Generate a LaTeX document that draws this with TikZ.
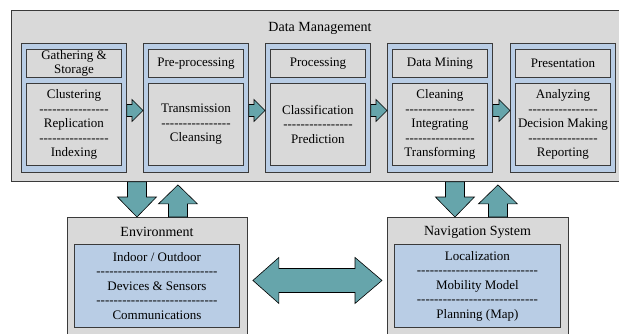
\documentclass[tikz,border=0pt]{standalone}
\usepackage{fontspec}
\setmainfont{Liberation Serif}[Ligatures=TeXOff]
\usetikzlibrary{calc}
\definecolor{boxgray}{HTML}{D9D9D9}
\definecolor{boxblue}{HTML}{B9CDE5}
\definecolor{arrowteal}{HTML}{66A5AB}
\definecolor{edgecol}{HTML}{3A3A3A}
\newcommand\sepn{----------------}
\newcommand\sepw{----------------------------}
\newcommand\mymodule[4]{%
  \node[bluebox, anchor=north west, minimum width=105pt, minimum height=129pt] (#1) at (#2,43) {};
  \node[graybox, txt, anchor=north west, minimum width=95pt, minimum height=28pt] (#1t) at (#2+5,49) {#3};
  \node[graybox, txt, anchor=north west, minimum width=95pt, minimum height=82pt] (#1c) at (#2+5,83) {#4};
}
\begin{document}
\begin{tikzpicture}[x=1pt,y=-1pt,
  graybox/.style={draw=edgecol, fill=boxgray, line width=0.9pt, inner sep=0pt},
  bluebox/.style={draw=edgecol, fill=boxblue, line width=0.9pt, inner sep=0pt},
  txt/.style={font=\fontsize{13}{14.5}\selectfont, align=center},
  bigtxt/.style={font=\fontsize{14}{16}\selectfont},
  blockarrow/.style={fill=arrowteal, draw=black, line width=0.6pt, line join=miter},
]
\useasboundingbox (0,0) rectangle (619,333);
\clip (0,0) rectangle (619,333);
\fill[white] (0,0) rectangle (619,333);

% Data management container
\node[graybox, anchor=north west, minimum width=620pt, minimum height=171pt] (dm) at (11,10) {};
\node[bigtxt] (dmt) at (320,28) {Data Management};

\mymodule{m1}{21}{Gathering \&\\Storage}{Clustering\\\sepn\\Replication\\\sepn\\Indexing}
\mymodule{m2}{143}{Pre-processing}{Transmission\\\sepn\\Cleansing}
\mymodule{m3}{265}{Processing}{Classification\\\sepn\\Prediction}
\mymodule{m4}{387}{Data Mining}{Cleaning\\\sepn\\Integrating\\\sepn\\Transforming}
\mymodule{m5}{510}{Presentation}{Analyzing\\\sepn\\Decision Making\\\sepn\\Reporting}

% small arrows between modules
\foreach \a/\b in {m1/m2, m2/m3, m3/m4, m4/m5}{
  \draw[blockarrow] let \p1=(\a.east), \p2=(\b.west) in
    (\x1,\y1+3.5pt) -- (\x2-11pt,\y1+3.5pt) -- (\x2-11pt,\y1+8.5pt) -- (\x2,\y1-2.5pt)
    -- (\x2-11pt,\y1-13.5pt) -- (\x2-11pt,\y1-8.5pt) -- (\x1,\y1-8.5pt) -- cycle;
}

% Environment
\node[graybox, anchor=north west, minimum width=180pt, minimum height=140pt] (env) at (67,217) {};
\node[bigtxt] (envt) at (157,232) {Environment};
\node[bluebox, txt, anchor=north west, minimum width=165pt, minimum height=83pt] (envc) at (74,244)
  {Indoor / Outdoor\\\sepw\\Devices \& Sensors\\\sepw\\Communications};

% Navigation system
\node[graybox, anchor=north west, minimum width=181pt, minimum height=140pt] (nav) at (387,217) {};
\node[bigtxt] (navt) at (477.5,232) {Navigation System};
\node[bluebox, txt, anchor=north west, minimum width=166pt, minimum height=83pt] (navc) at (394,244)
  {Localization\\\sepw\\Mobility Model\\\sepw\\Planning (Map)};

% vertical arrows
\foreach \b/\dd/\du in {env/20.5/20.5, nav/23/20}{
  \draw[blockarrow] let \p1=(dm.south), \p2=(\b.north) in
    (\x2-\dd pt-9.5pt,\y1) -- (\x2-\dd pt+9.5pt,\y1) -- (\x2-\dd pt+9.5pt,\y2+20pt)
    -- (\x2-\dd pt+19.5pt,\y2+20pt) -- (\x2-\dd pt,\y2) -- (\x2-\dd pt-19.5pt,\y2+20pt)
    -- (\x2-\dd pt-9.5pt,\y2+20pt) -- cycle;
  \draw[blockarrow] let \p1=(dm.south), \p2=(\b.north) in
    (\x2+\du pt-9.5pt,\y2) -- (\x2+\du pt-9.5pt,\y1-22pt) -- (\x2+\du pt-19.5pt,\y1-22pt)
    -- (\x2+\du pt,\y1-3pt) -- (\x2+\du pt+19.5pt,\y1-22pt) -- (\x2+\du pt+9.5pt,\y1-22pt)
    -- (\x2+\du pt+9.5pt,\y2) -- cycle;
}

% double arrow between environment and navigation
\draw[blockarrow] let \p1=(env.east), \p2=(nav.west) in
  (\x1+5pt,\y1+7pt) -- (\x1+31pt,\y1+30pt) -- (\x1+31pt,\y1+19pt) -- (\x2-32pt,\y1+19pt)
  -- (\x2-32pt,\y1+30pt) -- (\x2-5pt,\y1+7pt) -- (\x2-32pt,\y1-16pt) -- (\x2-32pt,\y1-5pt)
  -- (\x1+31pt,\y1-5pt) -- (\x1+31pt,\y1-16pt) -- cycle;
\end{tikzpicture}
\end{document}
